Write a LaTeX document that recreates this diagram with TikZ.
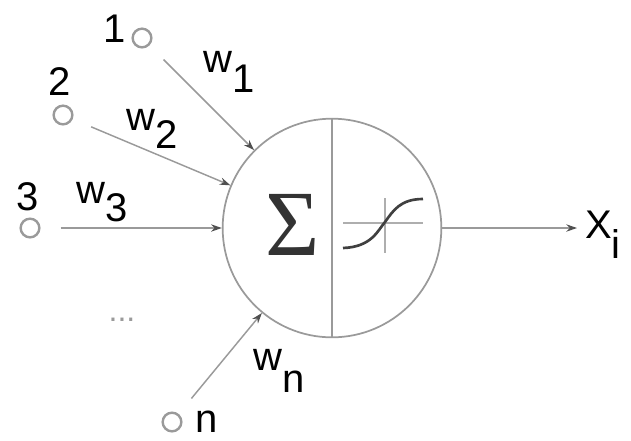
\documentclass[tikz,border=0pt]{standalone}
\usepackage{fontspec}
\setmainfont{Liberation Sans}
\newfontfamily\serifsig{Liberation Serif}
\usetikzlibrary{arrows.meta}
\definecolor{linegray}{HTML}{9A9A9A}
\definecolor{tipgray}{HTML}{505050}
\begin{document}
\begin{tikzpicture}[x=0.75pt,y=-0.75pt,
  lbl/.style={font=\fontsize{30}{30}\selectfont, inner sep=0pt, text=black},
  inp/.style={circle, draw=linegray, line width=1.8pt, minimum size=14pt, inner sep=0pt},
  conn/.style={draw=linegray, line width=1.1pt, -{Stealth[length=8pt,width=5.5pt,color=tipgray]}}]
\useasboundingbox (0,0) rectangle (631,440);
% neuron
\node[circle, draw=linegray, line width=1.3pt, minimum size=164pt, inner sep=0pt] (neuron) at (332,228) {};
\draw[linegray, line width=1.3pt] (neuron.north) -- (neuron.south);
\node[font=\serifsig\fontsize{70}{70}\selectfont, text=black!80, inner sep=0pt] (sigma) at (293,225) {Σ};
% sigmoid
\draw[linegray!80, line width=1pt] (343,223) -- (423,223);
\draw[linegray!80, line width=1pt] (385,198) -- (385,253);
\draw[black!75, line width=2pt] (343,248) .. controls (372,247) and (378,230) .. (385,222) .. controls (393,211) and (400,199) .. (423,199);
% inputs
\node[inp] (in1) at (142,38) {};
\node[inp] (in2) at (63,115) {};
\node[inp] (in3) at (30,228) {};
\node[inp] (inn) at (172,422) {};
\node[lbl, anchor=base] (l1) at (115,42) {1};
\node[lbl, anchor=base] (l2) at (60,95) {2};
\node[lbl, anchor=base] (l3) at (28,210) {3};
\node[lbl, anchor=base] (ln) at (207,432) {n};
\node[lbl, anchor=center, text=linegray, font=\fontsize{24}{24}\selectfont] (dots) at (122,320) {...};
% connectors
\draw[conn, shorten <=15pt] (in1) -- (neuron);
\draw[conn, shorten <=15pt] (in2) -- (neuron);
\draw[conn, shorten <=15pt] (in3) -- (neuron);
\draw[conn, shorten <=15pt] (inn) -- (neuron);
% weights
\node[lbl, anchor=base west] (w1) at (203,72) {w\raisebox{-0.52em}{1}};
\node[lbl, anchor=base west] (w2) at (126,130) {w\raisebox{-0.45em}{2}};
\node[lbl, anchor=base west] (w3) at (76,203) {w\raisebox{-0.47em}{3}};
\node[lbl, anchor=base west] (wn) at (253,370) {w\raisebox{-0.55em}{n}};
% output
\node[lbl, anchor=base west] (xi) at (585,238) {X\raisebox{-0.5em}{i}};
\coordinate (outend) at (577,228);
\draw[conn] (neuron.east) -- (outend);
\end{tikzpicture}
\end{document}
